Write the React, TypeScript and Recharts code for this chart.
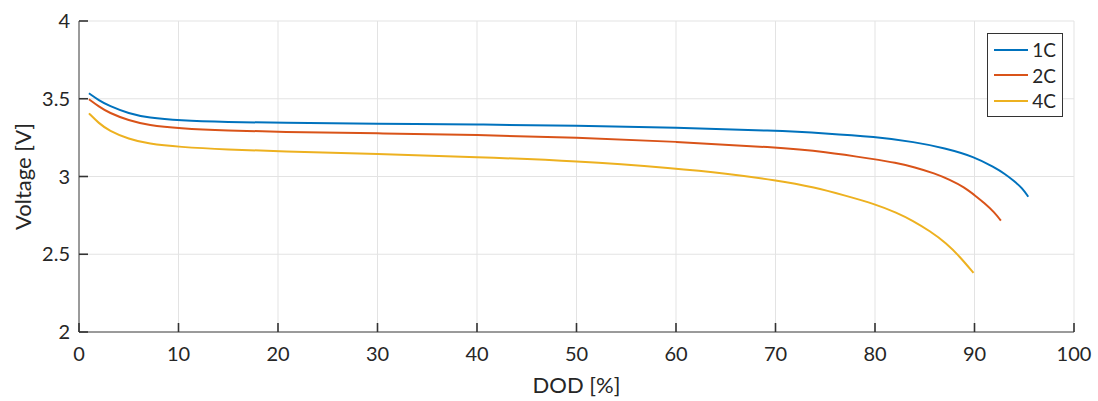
import { CartesianGrid, Line, LineChart, XAxis, YAxis } from 'recharts';

const dod1C = [1, 2, 3, 5, 7, 10, 15, 20, 30, 40, 50, 60, 70, 75, 80, 84, 87, 90, 92, 93, 94, 94.8, 95.4];
const volt1C = [3.535, 3.49, 3.455, 3.405, 3.378, 3.36, 3.35, 3.345, 3.34, 3.335, 3.327, 3.314, 3.295, 3.278, 3.255, 3.222, 3.183, 3.127, 3.058, 3.02, 2.97, 2.925, 2.87];

const dod2C = [1, 2, 3, 5, 7, 10, 15, 20, 30, 40, 50, 60, 70, 75, 80, 82, 84, 86, 87.5, 89, 90, 91, 92, 92.65];
const volt2C = [3.497, 3.45, 3.41, 3.36, 3.33, 3.31, 3.295, 3.287, 3.278, 3.267, 3.252, 3.224, 3.188, 3.16, 3.11, 3.09, 3.06, 3.02, 2.98, 2.93, 2.88, 2.83, 2.77, 2.716];

const dod4C = [1, 2, 3, 5, 7, 10, 15, 20, 30, 40, 50, 60, 65, 70, 74, 77, 80, 82.2, 83.8, 85.5, 87.2, 88.5, 89.9];
const volt4C = [3.406, 3.342, 3.295, 3.24, 3.21, 3.19, 3.173, 3.162, 3.145, 3.125, 3.1, 3.052, 3.02, 2.977, 2.93, 2.877, 2.823, 2.767, 2.716, 2.65, 2.57, 2.486, 2.38];

const xTicks = [0, 10, 20, 30, 40, 50, 60, 70, 80, 90, 100];
const yTicks = [2, 2.5, 3, 3.5, 4];

const toPoints = (xs: number[], ys: number[]) => xs.map((x, i) => ({ dod: x, v: ys[i] }));

const SERIES = [
  { name: '1C', color: '#0072BD', data: toPoints(dod1C, volt1C) },
  { name: '2C', color: '#D95319', data: toPoints(dod2C, volt2C) },
  { name: '4C', color: '#EDB120', data: toPoints(dod4C, volt4C) },
];

const FONT = 'Lato, "Open Sans", sans-serif';
const AXIS = '#444';
const TEXT = '#262626';
const TICK_LEN = 9;

// MATLAB-style ticks: short marks pointing into the plot (a bit wider than the grid so they show on top of it)
const BottomTick = (p: any) => (
  <g>
    <line x1={p.x} x2={p.x} y1={p.y - 15} y2={p.y - 15 - TICK_LEN} stroke="#333" strokeWidth={1.6} />
    <text x={p.x} y={p.y} dy="0.71em" textAnchor="middle" fill={TEXT} fontSize={20} fontFamily={FONT}>
      {p.payload.value}
    </text>
  </g>
);

const LeftTick = (p: any) => (
  <g>
    <line x1={p.x + 9} x2={p.x + 9 + TICK_LEN} y1={p.y} y2={p.y} stroke="#333" strokeWidth={1.6} />
    <text x={p.x} y={p.y} dy="0.355em" textAnchor="end" fill={TEXT} fontSize={20} fontFamily={FONT}>
      {p.payload.value}
    </text>
  </g>
);

const TopTick = (p: any) => <line x1={p.x} x2={p.x} y1={p.y} y2={p.y + TICK_LEN} stroke="#333" strokeWidth={1.6} />;
const RightTick = (p: any) => <line x1={p.x} x2={p.x - TICK_LEN} y1={p.y} y2={p.y} stroke="#333" strokeWidth={1.6} />;

function LegendBox() {
  return (
    <div
      style={{
        position: 'absolute',
        top: 33,
        left: 987,
        width: 76,
        height: 84,
        border: '1px solid #333',
        background: '#fff',
        padding: '3px 6px',
        fontFamily: FONT,
        fontSize: 19,
        color: TEXT,
        boxSizing: 'border-box',
      }}
    >
      {SERIES.map((s) => (
        <div key={s.name} style={{ display: 'flex', alignItems: 'center', height: 25.5 }}>
          <span style={{ width: 37, height: 2, background: s.color, marginRight: 4 }} />
          <span>{s.name}</span>
        </div>
      ))}
    </div>
  );
}

export default function App() {
  return (
    <div style={{ position: 'absolute', left: 0, top: 0, width: 1098, height: 401, background: '#fff' }}>
      <LineChart width={1098} height={401} margin={{ top: 21, right: 24, left: 0, bottom: 0 }}>
        <CartesianGrid stroke="#e3e3e3" vertical horizontal />
        <XAxis
          type="number"
          dataKey="dod"
          domain={[0, 100]}
          ticks={xTicks}
          allowDataOverflow
          height={69}
          tickLine={false}
          tickSize={0}
          tickMargin={15}
          stroke={AXIS}
          tick={BottomTick}
          label={{
            content: () => (
              <text x={576.5} y={393} textAnchor="middle" fill={TEXT} fontSize={22} fontFamily={FONT}>
                DOD [%]
              </text>
            ),
          }}
        />
        <XAxis
          xAxisId="top"
          orientation="top"
          type="number"
          domain={[0, 100]}
          ticks={xTicks}
          height={0}
          tickSize={0}
          tickMargin={0}
          tickLine={false}
          tick={TopTick}
          stroke={AXIS}
        />
        <YAxis
          type="number"
          domain={[2, 4]}
          ticks={yTicks}
          width={79}
          tickLine={false}
          tickSize={0}
          tickMargin={9}
          stroke={AXIS}
          tick={LeftTick}
          label={{
            content: () => (
              <text
                x={0}
                y={0}
                transform="translate(31,176.5) rotate(-90)"
                textAnchor="middle"
                fill={TEXT}
                fontSize={22}
                fontFamily={FONT}
              >
                Voltage [V]
              </text>
            ),
          }}
        />
        <YAxis
          yAxisId="right"
          orientation="right"
          type="number"
          domain={[2, 4]}
          ticks={yTicks}
          width={0}
          tickSize={0}
          tickMargin={0}
          tickLine={false}
          tick={RightTick}
          stroke={AXIS}
        />
        {SERIES.map((s) => (
          <Line
            key={s.name}
            data={s.data}
            dataKey="v"
            name={s.name}
            type="basis"
            stroke={s.color}
            strokeWidth={2}
            dot={false}
            isAnimationActive={false}
          />
        ))}
      </LineChart>
      <LegendBox />
    </div>
  );
}
